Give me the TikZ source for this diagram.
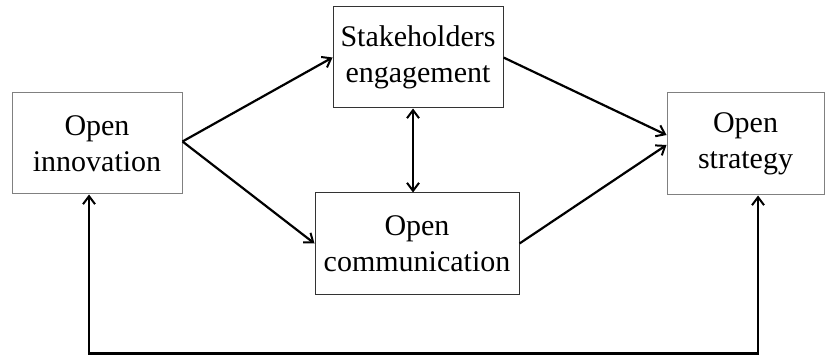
\documentclass[tikz,border=0pt]{standalone}
\usepackage{fontspec}
\setmainfont{Liberation Serif}
\usetikzlibrary{arrows.meta,calc}
\begin{document}
\begin{tikzpicture}[x=1pt,y=-1pt,
  box/.style={draw=#1,line width=1pt,rectangle,align=center,inner sep=0pt,
    font=\fontsize{30}{36}\selectfont,minimum height=101pt},
  box/.default=black!80,
  tip/.style={Straight Barb[length=8pt,width=12pt,line width=2pt]},
  arr/.style={line width=2.2pt,-{Straight Barb[length=8pt,width=12pt,line width=2pt]}},
  darr/.style={line width=2.2pt,{Straight Barb[length=8pt,width=12pt,line width=2pt]}-{Straight Barb[length=8pt,width=12pt,line width=2pt]}}]
\useasboundingbox (0,0) rectangle (826,355);
\node[box=gray,minimum width=170pt] (OI) at (97,143.5) {Open\\innovation};
\node[box,minimum width=170pt] (SE) at (418,57.5) {Stakeholders\\engagement};
\node[box,minimum width=204pt] (OC) at (417,243.5) {Open\\communication};
\node[box=gray,minimum width=157pt,minimum height=102pt] (OS) at (745.5,144) {Open\\strategy};
\coordinate (bl) at (89,353.5);
\coordinate (br) at (758,353.5);
\draw[arr] ($(OI.east)+(0,-2)$) -- (SE.west);
\draw[arr] ($(OI.east)+(0,-2)$) -- (OC.west);
\draw[arr] (SE.east) -- ($(OS.west)+(0,-9)$);
\draw[arr] (OC.east) -- ($(OS.west)+(0,1)$);
\draw[darr] ($(SE.south)+(-5,0)$) -- ($(OC.north)+(-4,0)$);
\draw[darr] (OI.south -| bl) -- (bl) -- (br) -- (OS.south -| br);
\end{tikzpicture}
\end{document}
